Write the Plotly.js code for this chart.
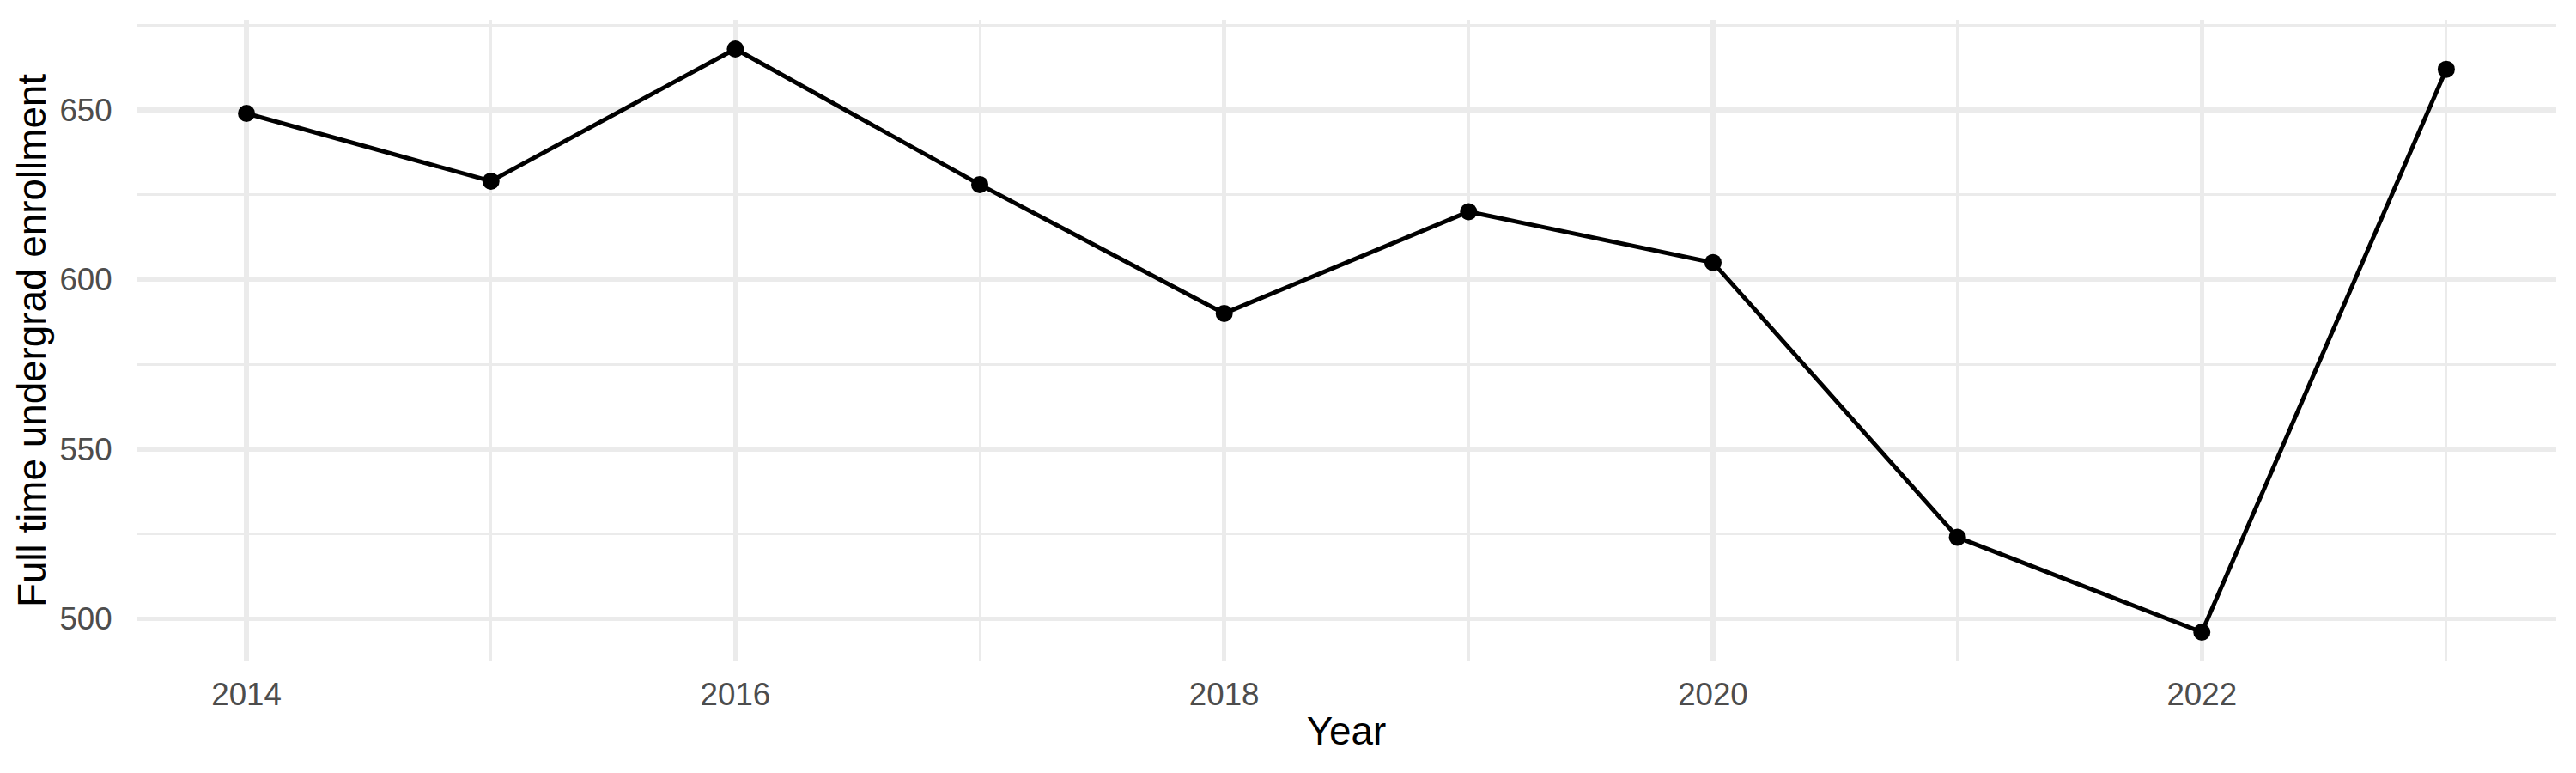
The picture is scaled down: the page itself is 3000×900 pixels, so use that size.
<!DOCTYPE html>
<html>
<head>
<meta charset="utf-8">
<script src="https://cdn.plot.ly/plotly-3.0.1.min.js"></script>
<style>
  html, body { margin: 0; padding: 0; background: #fff; }
  #gd { width: 3000px; height: 900px; }
</style>
</head>
<body>
<div id="gd"></div>
<script>
// enrollment by year
const years = [2014, 2015, 2016, 2017, 2018, 2019, 2020, 2021, 2022, 2023];
const enrollment = [649, 629, 668, 628, 590, 620, 605, 524, 496, 662];

const xTicks = [2014, 2016, 2018, 2020, 2022];
const yTicks = [500, 550, 600, 650];

const fontFam = 'Liberation Sans, Arial, Helvetica, sans-serif';

const data = [{
  x: years,
  y: enrollment,
  mode: 'lines+markers',
  type: 'scatter',
  line: { color: '#000000', width: 5 },
  marker: { color: '#000000', size: 20 },
  hoverinfo: 'skip'
}];

const layout = {
  width: 3000,
  height: 900,
  margin: { l: 159, r: 23, t: 23, b: 130, pad: 0 },
  paper_bgcolor: '#ffffff',
  plot_bgcolor: '#ffffff',
  showlegend: false,
  font: { family: fontFam, color: '#000000' },
  xaxis: {
    range: [2013.55, 2023.45],
    tickvals: xTicks,
    ticktext: xTicks.map(String),
    tickfont: { size: 36.7, color: '#4D4D4D', family: fontFam },
    ticks: 'outside',
    ticklen: 6,
    tickcolor: 'rgba(0,0,0,0)',
    showgrid: true,
    gridcolor: '#EBEBEB',
    gridwidth: 5.5,
    minor: { dtick: 1, tick0: 2015, showgrid: true, gridcolor: '#EBEBEB', gridwidth: 2.8, ticks: '' },
    zeroline: false,
    showline: false,
    title: { text: 'Year', font: { size: 45.8, color: '#000000', family: fontFam }, standoff: 6 }
  },
  yaxis: {
    range: [487.4, 676.6],
    tickvals: yTicks,
    ticktext: yTicks.map(String),
    tickfont: { size: 36.7, color: '#4D4D4D', family: fontFam },
    ticks: 'outside',
    ticklen: 20,
    tickcolor: 'rgba(0,0,0,0)',
    showgrid: true,
    gridcolor: '#EBEBEB',
    gridwidth: 5.5,
    minor: { dtick: 25, tick0: 525, showgrid: true, gridcolor: '#EBEBEB', gridwidth: 2.8, ticks: '' },
    zeroline: false,
    showline: false,
    title: { text: 'Full time undergrad enrollment', font: { size: 45.8, color: '#000000', family: fontFam }, standoff: 1 }
  }
};

Plotly.newPlot('gd', data, layout, { displayModeBar: false, staticPlot: true });
</script>
</body>
</html>
